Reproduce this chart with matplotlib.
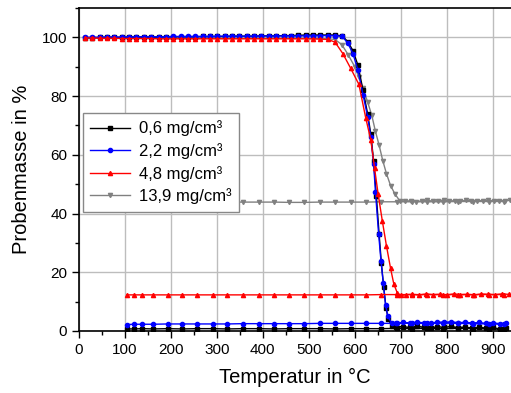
import numpy as np
import matplotlib
matplotlib.use("Agg")
import matplotlib.pyplot as plt
from matplotlib.ticker import MultipleLocator

plt.rcParams['font.family'] = ['Liberation Sans', 'DejaVu Sans']

# shared plateau temperatures (deg C)
plateau_T = [13, 29, 45, 61, 77, 93, 109, 125, 141, 157, 173, 189, 205, 221, 237, 253, 269,
             285, 301, 317, 333, 349, 365, 381, 397, 413, 429, 445, 461, 477, 493, 509, 525, 541]

# horizontal baseline segments (second run), shared temperatures
base_T = [104, 120, 138, 162, 193, 225, 257, 291, 323, 357, 391, 424, 457, 490, 524, 558,
          591, 625, 658, 692, 725, 758, 791, 825, 858, 892, 925]

labels = ["0,6 mg/cm³", "2,2 mg/cm³", "4,8 mg/cm³", "13,9 mg/cm³"]
colors = ["black", "#0000ff", "#ff0000", "#808080"]
markers = ["s", "o", "^", "v"]

# 0,6 mg/cm3
black_plat = [99.9, 99.9, 100.0, 100.0, 100.0, 100.0, 100.1, 100.1, 100.1, 100.1, 100.1, 100.2,
              100.2, 100.2, 100.2, 100.2, 100.3, 100.3, 100.3, 100.3, 100.4, 100.4, 100.4, 100.4,
              100.5, 100.5, 100.5, 100.6, 100.6, 100.7, 100.8, 100.8, 100.8, 100.8]
black_tail_T = [557, 573, 585, 596, 607, 618, 628, 635, 641, 647, 653, 658, 663, 668, 673, 680,
                690, 705, 720, 735, 750, 765, 780, 795, 810, 825, 840, 855, 870, 885, 900, 915, 930]
black_tail = [100.8, 100.5, 98.5, 95.5, 90.5, 82.0, 74.0, 67.0, 58.0, 46.0, 33.0, 23.0, 15.0,
              8.0, 4.0, 1.8, 1.4, 1.5, 1.2, 1.6, 1.3, 1.0, 1.5, 1.2, 1.6, 1.1, 1.4, 0.9, 1.3,
              1.0, 1.2, 0.7, 1.0]
black_base = [0.7, 0.7, 0.8, 0.7, 0.8, 0.7, 0.8, 0.8, 0.7, 0.8, 0.8, 0.7, 0.8, 0.8, 0.8, 0.7,
              0.8, 0.8, 0.8, 0.9, 0.8, 0.9, 0.8, 0.9, 0.8, 0.7, 0.6]

# 2,2 mg/cm3
blue_plat = [100.0, 100.0, 100.0, 100.1, 100.1, 100.1, 100.1, 100.2, 100.2, 100.2, 100.2, 100.2,
             100.3, 100.3, 100.3, 100.3, 100.3, 100.3, 100.4, 100.4, 100.4, 100.4, 100.4, 100.4,
             100.5, 100.5, 100.5, 100.5, 100.5, 100.5, 100.5, 100.5, 100.6, 100.6]
blue_tail_T = [557, 573, 585, 596, 607, 618, 628, 635, 641, 645, 652, 657, 662, 667, 672, 680,
               690, 705, 720, 735, 750, 765, 780, 795, 810, 825, 840, 855, 870, 885, 900, 915, 930]
blue_tail = [100.6, 100.3, 98.0, 94.5, 88.8, 80.5, 73.0, 66.0, 57.0, 47.5, 33.0, 24.0, 16.4,
             9.0, 5.0, 2.8, 2.6, 2.9, 2.7, 3.0, 2.8, 2.6, 3.1, 2.9, 3.2, 2.8, 3.0, 2.7, 2.9,
             2.6, 2.8, 2.5, 2.6]
blue_base = [2.2, 2.3, 2.3, 2.3, 2.4, 2.4, 2.4, 2.4, 2.4, 2.5, 2.5, 2.5, 2.5, 2.5, 2.6, 2.6,
             2.6, 2.6, 2.6, 2.6, 2.7, 2.6, 2.7, 2.6, 2.5, 2.4, 2.3]

# 4,8 mg/cm3
red_plat = [99.8, 99.8, 99.7, 99.7, 99.7, 99.6, 99.6, 99.6, 99.6, 99.6, 99.5, 99.5, 99.5, 99.5,
            99.5, 99.5, 99.5, 99.5, 99.5, 99.5, 99.5, 99.5, 99.5, 99.5, 99.5, 99.5, 99.5, 99.5,
            99.5, 99.5, 99.5, 99.5, 99.4, 99.3]
red_tail_T = [557, 574, 591, 609, 624, 635, 643, 651, 660, 669, 678, 685, 693, 700, 712, 725,
              740, 755, 770, 785, 800, 815, 830, 845, 860, 875, 890, 905, 920, 935]
red_tail = [98.4, 94.5, 89.5, 84.0, 72.5, 65.0, 55.6, 46.5, 37.5, 29.0, 21.3, 16.0, 12.8, 12.2,
            12.4, 12.5, 12.3, 12.6, 12.4, 12.5, 12.3, 12.6, 12.4, 12.5, 12.3, 12.6, 12.5, 12.4,
            12.6, 12.5]
red_base = [12.3, 12.3, 12.3, 12.3, 12.3, 12.3, 12.3, 12.3, 12.3, 12.3, 12.3, 12.3, 12.3, 12.3,
            12.3, 12.3, 12.3, 12.3, 12.4, 12.4, 12.4, 12.4, 12.4, 12.4, 12.4, 12.4, 12.4]

# 13,9 mg/cm3
gray_plat = [99.8, 99.8, 99.8, 99.7, 99.7, 99.7, 99.7, 99.7, 99.7, 99.7, 99.7, 99.7, 99.7, 99.7,
             99.7, 99.7, 99.7, 99.7, 99.7, 99.7, 99.7, 99.7, 99.7, 99.7, 99.7, 99.7, 99.7, 99.7,
             99.7, 99.7, 99.7, 99.6, 99.6, 99.5]
gray_tail_T = [557, 572, 586, 600, 609, 618, 628, 637, 645, 653, 661, 669, 678, 687, 698, 710,
               722, 734, 746, 758, 770, 782, 794, 806, 818, 830, 842, 854, 866, 878, 890, 902,
               914, 926, 938]
gray_tail = [99.3, 97.5, 94.0, 90.0, 86.5, 82.6, 78.0, 73.5, 68.0, 63.3, 58.0, 53.6, 49.5, 46.8,
             44.3, 44.2, 44.4, 44.1, 44.3, 44.5, 44.2, 44.3, 44.6, 44.2, 44.4, 44.3, 44.5, 44.2,
             44.4, 44.3, 44.5, 44.2, 44.4, 44.3, 44.5]
gray_base = [43.9, 43.9, 43.9, 43.9, 43.9, 43.9, 43.9, 43.9, 43.9, 43.9, 43.9, 43.9, 43.8, 43.8,
             43.9, 43.9, 43.9, 43.9, 44.0, 44.0, 44.0, 44.0, 44.0, 44.1, 44.1, 44.1, 44.1]

series = [
    (black_plat, black_tail_T, black_tail, black_base),
    (blue_plat, blue_tail_T, blue_tail, blue_base),
    (red_plat, red_tail_T, red_tail, red_base),
    (gray_plat, gray_tail_T, gray_tail, gray_base),
]

fig = plt.figure(figsize=(5.11, 3.93), dpi=100)
ax = fig.add_axes([79 / 511, 62 / 393, 432 / 511, 323 / 393])

# stacking: gray at the bottom, then black, blue, red on top
zorders = [3, 4, 5, 2]
handles = []
for i in range(4):
    plat, tail_T, tail, base = series[i]
    x = plateau_T + tail_T + [np.nan] + base_T
    y = plat + tail + [np.nan] + base
    ln, = ax.plot(x, y, color=colors[i], marker=markers[i], markersize=3.0,
                  linewidth=1.0, label=labels[i], zorder=zorders[i])
    handles.append(ln)

ax.set_xlim(0, 940)
ax.set_ylim(0, 110)
ax.xaxis.set_major_locator(MultipleLocator(100))
ax.xaxis.set_minor_locator(MultipleLocator(50))
ax.yaxis.set_major_locator(MultipleLocator(20))
ax.yaxis.set_minor_locator(MultipleLocator(10))
ax.grid(True, which='major', color='#bdbdbd', linewidth=1.0, zorder=0)
ax.set_axisbelow(True)
ax.tick_params(which='major', direction='out', length=5, width=1, labelsize=11)
ax.tick_params(which='minor', direction='out', length=3, width=1)
ax.spines['right'].set_visible(False)
for s in ['left', 'bottom', 'top']:
    ax.spines[s].set_linewidth(1.2)

ax.set_xlabel("Temperatur in °C", fontsize=14.5, labelpad=8)
ax.set_ylabel("Probenmasse in %", fontsize=14.5, labelpad=8)

leg = ax.legend(handles, labels, loc='upper left',
                bbox_to_anchor=(0.009, 0.675), borderaxespad=0, fontsize=12,
                fancybox=False, framealpha=1, edgecolor='#888888', handlelength=2.4,
                handletextpad=0.5, labelspacing=0.4, borderpad=0.45)
leg.get_frame().set_linewidth(1.0)
leg.set_zorder(10)

fig.savefig("out.png", dpi=100)
